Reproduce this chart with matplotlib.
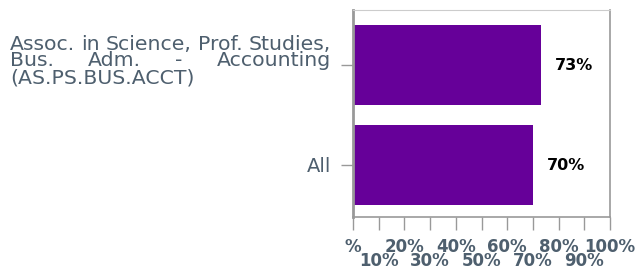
import matplotlib
matplotlib.use("Agg")
import matplotlib.pyplot as plt
from matplotlib.ticker import FixedLocator

categories = ["Assoc. in Science, Prof. Studies, Bus. Adm. - Accounting (AS.PS.BUS.ACCT)", "All"]
label_lines = ["Assoc. in Science, Prof. Studies,", "Bus. Adm. - Accounting", "(AS.PS.BUS.ACCT)"]
values = [73, 70]
value_labels = ["73%", "70%"]
major_ticks = [0, 20, 40, 60, 80, 100]
major_labels = ["%", "20%", "40%", "60%", "80%", "100%"]
minor_ticks = [10, 30, 50, 70, 90]
minor_labels = ["10%", "30%", "50%", "70%", "90%"]

BAR = "#660099"
SLATE = "#4e5f6e"
W, H = 640, 270

fig = plt.figure(figsize=(6.4, 2.7), dpi=100)
ax = fig.add_axes([353 / W, 53 / H, 257 / W, 207 / H])

ypos = list(range(len(categories)))
ax.barh(ypos, values, height=0.8, color=BAR, zorder=2)
ax.set_xlim(0, 100)
ax.set_ylim(1.52, -0.55)

for y, v, lab in zip(ypos, values, value_labels):
    ax.annotate(lab, (v, y), textcoords="offset points", xytext=(10, 0),
                ha="left", va="center", fontsize=11.5, fontweight="bold",
                color="black")

# x ticks: two staggered rows
ax.xaxis.set_major_locator(FixedLocator(major_ticks))
ax.xaxis.set_minor_locator(FixedLocator(minor_ticks))
ax.set_xticklabels(major_labels)
ax.set_xticklabels(minor_labels, minor=True)
ax.tick_params(axis="x", which="both", length=9, width=1, color="#999999",
               labelsize=12, labelcolor=SLATE, pad=6)
ax.tick_params(axis="x", which="minor", pad=16.5)
for t in ax.get_xticklabels(which="both"):
    t.set_fontweight("bold")

ax.set_yticks(ypos)
ax.set_yticklabels(["", categories[1]])
ax.tick_params(axis="y", length=9, width=1, color="#999999",
               labelsize=14, labelcolor=SLATE, pad=7)

for side in ("left", "right", "bottom"):
    ax.spines[side].set_color("#999999")
    ax.spines[side].set_linewidth(1.2)
ax.spines["top"].set_color("#cccccc")
ax.spines["left"].set_linewidth(2)

# long category label, justified like the original
renderer = fig.canvas.get_renderer()
x_left, x_right = 10, 331
line_y = [44, 61, 78]


def text_width(s, size):
    t = fig.text(0, 0, s, fontsize=size)
    w = t.get_window_extent(renderer).width
    t.remove()
    return w


fs = 10 * (x_right - x_left) / text_width(label_lines[0], 10)

for i, (line, yy) in enumerate(zip(label_lines, line_y)):
    words = line.split(" ")
    widths = [text_width(w, fs) for w in words]
    if i < len(label_lines) - 1 and len(words) > 1:
        gap = (x_right - x_left - sum(widths)) / (len(words) - 1)
    else:
        gap = text_width("a b", fs) - text_width("ab", fs)
    x = x_left
    for w, wd in zip(words, widths):
        fig.text(x / W, 1 - yy / H, w, fontsize=fs, color=SLATE,
                 ha="left", va="center")
        x += wd + gap

fig.savefig("out.png", dpi=100)
